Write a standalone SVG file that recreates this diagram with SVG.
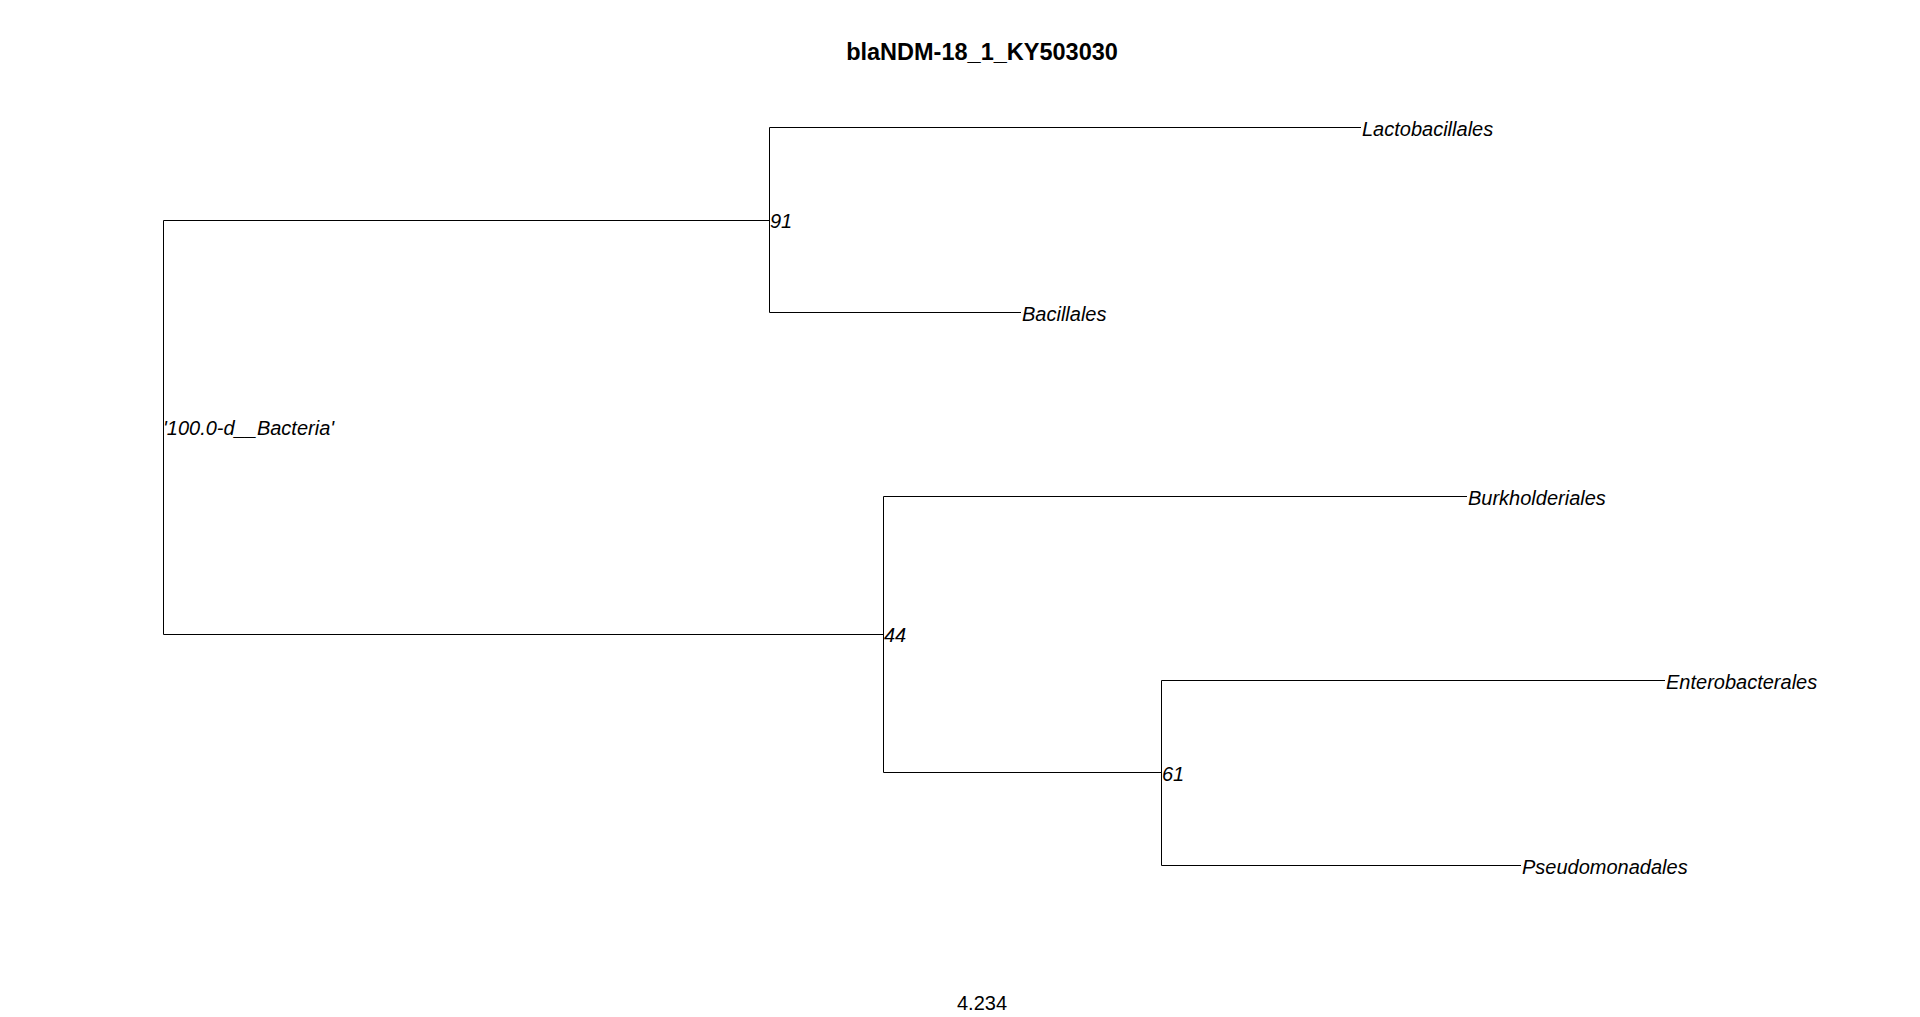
<svg xmlns="http://www.w3.org/2000/svg" width="1920" height="1017" viewBox="0 0 1920 1017">
<style>
.bg{fill:#ffffff}
.edge{fill:none;stroke:#000000;stroke-width:1}
.tip{font-family:"Liberation Sans",Arial,sans-serif;font-size:20px;font-style:italic;fill:#000000}
.title{font-family:"Liberation Sans",Arial,sans-serif;font-size:23.5px;font-weight:bold;fill:#000000}
.scale{font-family:"Liberation Sans",Arial,sans-serif;font-size:20px;fill:#000000}
</style>
<rect class="bg" x="0" y="0" width="1920" height="1017"/>
<text id="title" class="title" x="982" y="60" text-anchor="middle">blaNDM-18_1_KY503030</text>
<g id="connectors">
<path class="edge" d="M769.5,220.5 H163.5 V634.5 H883.5"/>
<path class="edge" d="M1361,127.5 H769.5 V312.5 H1021"/>
<path class="edge" d="M1467,496.5 H883.5 V772.5 H1161.5"/>
<path class="edge" d="M1665,680.5 H1161.5 V865.5 H1521"/>
</g>
<g id="node-root"><text class="tip" x="163" y="435">'100.0-d__Bacteria'</text></g>
<g id="node-91"><text class="tip" x="770" y="228">91</text></g>
<g id="node-44"><text class="tip" x="884" y="642">44</text></g>
<g id="node-61"><text class="tip" x="1162" y="781">61</text></g>
<g id="node-lactobacillales"><text class="tip" x="1362" y="136">Lactobacillales</text></g>
<g id="node-bacillales"><text class="tip" x="1022" y="321">Bacillales</text></g>
<g id="node-burkholderiales"><text class="tip" x="1468" y="505">Burkholderiales</text></g>
<g id="node-enterobacterales"><text class="tip" x="1666" y="689">Enterobacterales</text></g>
<g id="node-pseudomonadales"><text class="tip" x="1522" y="874">Pseudomonadales</text></g>
<text id="scale-label" class="scale" x="982" y="1010" text-anchor="middle">4.234</text>
</svg>
